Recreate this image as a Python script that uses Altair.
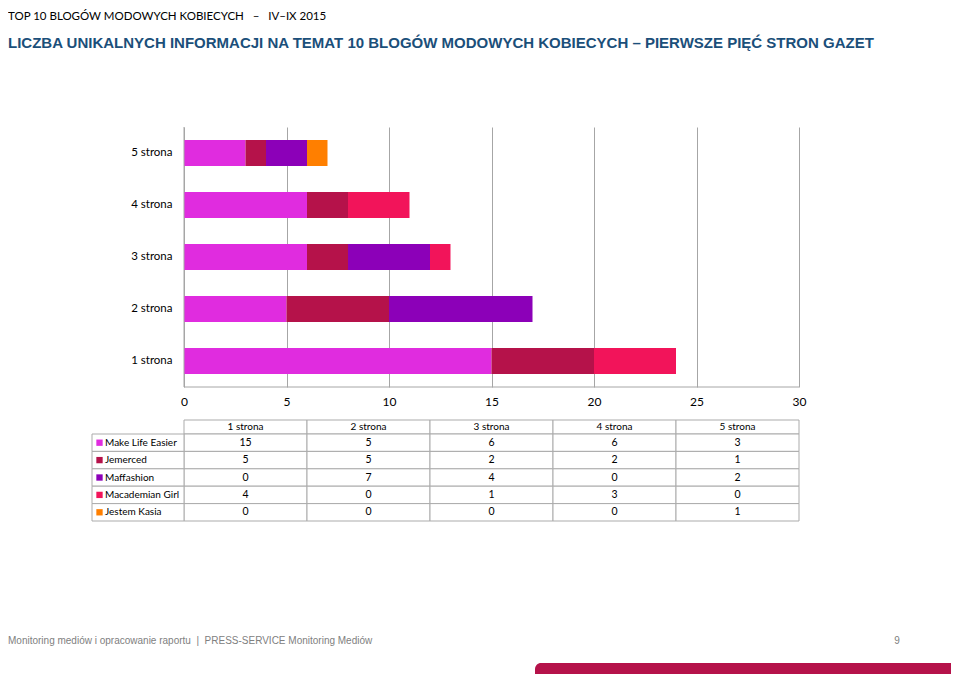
import altair as alt
import pandas as pd

# ---- data ----
strony = ["1 strona", "2 strona", "3 strona", "4 strona", "5 strona"]
series = ["Make Life Easier", "Jemerced", "Maffashion", "Macademian Girl", "Jestem Kasia"]
make_life_easier = [15, 5, 6, 6, 3]
jemerced = [5, 5, 2, 2, 1]
maffashion = [0, 7, 4, 0, 2]
macademian_girl = [4, 0, 1, 3, 0]
jestem_kasia = [0, 0, 0, 0, 1]
colors = ["#E02CDF", "#B5124A", "#8C00B8", "#F2145A", "#FF7F00"]
x_ticks = [0, 5, 10, 15, 20, 25, 30]

NB = "\u00a0"
title_top = "TOP 10 BLOGÓW MODOWYCH KOBIECYCH" + NB * 3 + "–" + NB * 3 + "IV–IX 2015"
title_main = "LICZBA UNIKALNYCH INFORMACJI NA TEMAT 10 BLOGÓW MODOWYCH KOBIECYCH – PIERWSZE PIĘĆ STRON GAZET"
footer = "Monitoring mediów i opracowanie raportu" + NB * 2 + "|" + NB * 2 + "PRESS-SERVICE Monitoring Mediów"
page_no = "9"

values = [make_life_easier, jemerced, maffashion, macademian_girl, jestem_kasia]
rows = []
for si, (s, vals) in enumerate(zip(series, values)):
    for st, v in zip(strony, vals):
        rows.append({"series": s, "order": si, "strona": st, "value": v})
df = pd.DataFrame(rows)
df_str = pd.DataFrame({"strona": strony})
df_ser = pd.DataFrame({"series": series})
one = pd.DataFrame({"a": [0]})

W, H = 615, 260
FONT = "Lato"
GRID = "#A6A6A6"
TBL = "#ABABAB"

color_scale = alt.Scale(domain=series, range=colors)

bars = alt.Chart(df).mark_bar(size=26).encode(
    x=alt.X("sum(value):Q", stack="zero",
            scale=alt.Scale(domain=[0, 30], nice=False),
            axis=alt.Axis(values=x_ticks, title=None, grid=True, gridColor=GRID,
                          domain=False, ticks=False, labelFlush=False,
                          labelFont=FONT, labelFontSize=12, labelColor="#000000",
                          labelPadding=9)),
    y=alt.Y("strona:N", sort=list(reversed(strony)),
            scale=alt.Scale(domain=list(reversed(strony)), paddingInner=0.5, paddingOuter=0.25),
            axis=alt.Axis(title=None, ticks=False, domain=False, labelFont=FONT,
                          labelFontSize=11.5, labelColor="#000000", labelPadding=12)),
    color=alt.Color("series:N", scale=color_scale, legend=None),
    order=alt.Order("order:Q"),
)

leftline = alt.Chart(one).mark_rule(color=GRID, strokeWidth=1).encode(
    x=alt.value(0), y=alt.value(0), y2=alt.value(H))
bottomline = alt.Chart(one).mark_rule(color=GRID, strokeWidth=1).encode(
    x=alt.value(0), x2=alt.value(W), y=alt.value(H))

col_x = alt.X("strona:N", scale=alt.Scale(domain=strony, range=[0, W], paddingInner=0, paddingOuter=0), axis=None)
row_y = alt.Y("series:N", scale=alt.Scale(domain=series, range=[307, 394], paddingInner=0, paddingOuter=0), axis=None)

header_cells = alt.Chart(df_str).mark_rect(fill="white", stroke=TBL, strokeWidth=1).encode(
    x=col_x, y=alt.value(293), y2=alt.value(307))
header_text = alt.Chart(df_str).mark_text(font=FONT, fontSize=10, color="#000000").encode(
    x=col_x, y=alt.value(300), text="strona:N")

data_cells = alt.Chart(df).mark_rect(fill="white", stroke=TBL, strokeWidth=1).encode(
    x=col_x, y=row_y)
label_cells = alt.Chart(df_ser).mark_rect(fill="white", stroke=TBL, strokeWidth=1).encode(
    x=alt.value(-92), x2=alt.value(0), y=row_y)
value_text = alt.Chart(df).mark_text(font=FONT, fontSize=10.5, color="#000000").encode(
    x=col_x, y=row_y, text="value:Q")
squares = alt.Chart(df_ser).mark_square(size=40, opacity=1).encode(
    x=alt.value(-84.5), y=row_y,
    color=alt.Color("series:N", scale=color_scale, legend=None))
label_text = alt.Chart(df_ser).mark_text(font=FONT, fontSize=10, color="#000000", align="left").encode(
    x=alt.value(-79), y=row_y, text="series:N")

t1 = alt.Chart(one).mark_text(text=title_top, font=FONT, fontSize=11.5, color="#000000",
                              align="left", baseline="middle").encode(
    x=alt.value(-176), y=alt.value(-110))
t2 = alt.Chart(one).mark_text(text=title_main, font="Liberation Sans", fontSize=15,
                              fontWeight="bold", color="#1B4F7A",
                              align="left", baseline="middle").encode(
    x=alt.value(-176), y=alt.value(-84))
f1 = alt.Chart(one).mark_text(text=footer, font="Liberation Sans", fontSize=10,
                              color="#808080", align="left", baseline="middle").encode(
    x=alt.value(-176), y=alt.value(514))
f2 = alt.Chart(one).mark_text(text=page_no, font="Liberation Sans", fontSize=10,
                              color="#808080", align="center", baseline="middle").encode(
    x=alt.value(713), y=alt.value(514))
band = alt.Chart(one).mark_rect(color="#B5124A", cornerRadiusTopLeft=6).encode(
    x=alt.value(351), x2=alt.value(770), y=alt.value(536), y2=alt.value(550))

chart = alt.layer(
    bars, leftline, bottomline,
    header_cells, header_text, data_cells, label_cells, value_text, squares, label_text,
    t1, t2, f1, f2, band,
).resolve_scale(x="independent", y="independent").properties(
    width=W, height=H,
    background="white",
    autosize=alt.AutoSizeParams(type="none"),
    padding={"left": 176, "top": 119, "right": 152, "bottom": 287},
).configure_view(strokeWidth=0, strokeOpacity=0).configure_axis(domain=False)

chart.save("out.html", embed_options={"renderer": "svg", "actions": False})
